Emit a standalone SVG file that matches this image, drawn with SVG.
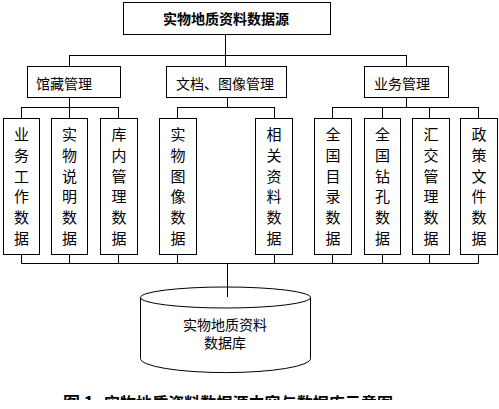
<svg xmlns="http://www.w3.org/2000/svg" width="499" height="409" viewBox="0 0 499 409">
<defs>
<style>
.b{fill:#fff;stroke:#000;stroke-width:1}
.t{font-family:"Noto Sans CJK SC","Noto Sans CJK JP",sans-serif;font-size:14px;fill:#000;text-anchor:middle}
.v{font-family:"Noto Sans CJK SC","Noto Sans CJK JP",sans-serif;font-size:15px;fill:#000;text-anchor:middle}
.c{fill:none;stroke:#000;stroke-width:1}
</style>
<clipPath id="cap"><rect x="0" y="393" width="499" height="7"/></clipPath>
</defs>
<rect width="499" height="409" fill="#fff"/>
<g id="connectors" class="c">
<path d="M225.5 34V55.5M69.5 55.5H406.5M69.5 55V66M225.5 55V66M406.5 55V66"/>
<path d="M69.5 97V107.5M21.5 107.5H118.5M21.5 107V118M69.5 107V118M118.5 107V118"/>
<path d="M227.5 97V107.5M177.5 107.5H274.5M177.5 107V118M274.5 107V118"/>
<path d="M406.5 97V107.5M332.5 107.5H478.5M332.5 107V118M382.5 107V118M429.5 107V118M478.5 107V118"/>
<path d="M21.5 254V263.5M69.5 254V263.5M118.5 254V263.5M177.5 254V263.5M274.5 254V263.5M332.5 254V263.5M382.5 254V263.5M429.5 254V263.5M478.5 254V263.5M21.5 263.5H478.5"/>
<path d="M227.5 263V297"/>
</g>
<g id="root"><rect class="b" x="123.5" y="2.5" width="207" height="32"/><text class="t" x="226" y="24" style="font-weight:bold">实物地质资料数据源</text></g>
<g id="n-guancang"><rect class="b" x="27.5" y="66.5" width="93" height="31"/><text class="t" x="64" y="89">馆藏管理</text></g>
<g id="n-wendang"><rect class="b" x="166.5" y="66.5" width="120" height="31"/><text class="t" x="225" y="89">文档、图像管理</text></g>
<g id="n-yewu"><rect class="b" x="364.5" y="66.5" width="84" height="31"/><text class="t" x="402" y="89">业务管理</text></g>
<g id="l1"><rect class="b" x="3.5" y="118.5" width="36" height="136"/><text class="v"><tspan x="21.5" y="140">业</tspan><tspan x="21.5" y="161">务</tspan><tspan x="21.5" y="182">工</tspan><tspan x="21.5" y="202">作</tspan><tspan x="21.5" y="223">数</tspan><tspan x="21.5" y="244">据</tspan></text></g>
<g id="l2"><rect class="b" x="51.5" y="118.5" width="36" height="136"/><text class="v"><tspan x="69.5" y="140">实</tspan><tspan x="69.5" y="161">物</tspan><tspan x="69.5" y="182">说</tspan><tspan x="69.5" y="202">明</tspan><tspan x="69.5" y="223">数</tspan><tspan x="69.5" y="244">据</tspan></text></g>
<g id="l3"><rect class="b" x="100.5" y="118.5" width="37" height="136"/><text class="v"><tspan x="119" y="140">库</tspan><tspan x="119" y="161">内</tspan><tspan x="119" y="182">管</tspan><tspan x="119" y="202">理</tspan><tspan x="119" y="223">数</tspan><tspan x="119" y="244">据</tspan></text></g>
<g id="l4"><rect class="b" x="159.5" y="118.5" width="37" height="136"/><text class="v"><tspan x="178" y="140">实</tspan><tspan x="178" y="161">物</tspan><tspan x="178" y="182">图</tspan><tspan x="178" y="202">像</tspan><tspan x="178" y="223">数</tspan><tspan x="178" y="244">据</tspan></text></g>
<g id="l5"><rect class="b" x="255.5" y="118.5" width="37" height="136"/><text class="v"><tspan x="274" y="140">相</tspan><tspan x="274" y="161">关</tspan><tspan x="274" y="182">资</tspan><tspan x="274" y="202">料</tspan><tspan x="274" y="223">数</tspan><tspan x="274" y="244">据</tspan></text></g>
<g id="l6"><rect class="b" x="314.5" y="118.5" width="37" height="136"/><text class="v"><tspan x="333" y="140">全</tspan><tspan x="333" y="161">国</tspan><tspan x="333" y="182">目</tspan><tspan x="333" y="202">录</tspan><tspan x="333" y="223">数</tspan><tspan x="333" y="244">据</tspan></text></g>
<g id="l7"><rect class="b" x="364.5" y="118.5" width="36" height="136"/><text class="v"><tspan x="382.5" y="140">全</tspan><tspan x="382.5" y="161">国</tspan><tspan x="382.5" y="182">钻</tspan><tspan x="382.5" y="202">孔</tspan><tspan x="382.5" y="223">数</tspan><tspan x="382.5" y="244">据</tspan></text></g>
<g id="l8"><rect class="b" x="412.5" y="118.5" width="37" height="136"/><text class="v"><tspan x="431" y="140">汇</tspan><tspan x="431" y="161">交</tspan><tspan x="431" y="182">管</tspan><tspan x="431" y="202">理</tspan><tspan x="431" y="223">数</tspan><tspan x="431" y="244">据</tspan></text></g>
<g id="l9"><rect class="b" x="460.5" y="118.5" width="37" height="136"/><text class="v"><tspan x="479" y="140">政</tspan><tspan x="479" y="161">策</tspan><tspan x="479" y="182">文</tspan><tspan x="479" y="202">件</tspan><tspan x="479" y="223">数</tspan><tspan x="479" y="244">据</tspan></text></g>
<g id="db">
<path class="c" d="M140.5 297.5V358.5A84.5 14 0 0 0 310.5 358.5V297.5"/>
<ellipse class="c" cx="225.5" cy="297.5" rx="85" ry="10.5"/>
<text class="t"><tspan x="225" y="330">实物地质资料</tspan><tspan x="225" y="348">数据库</tspan></text>
</g>
<g id="caption" clip-path="url(#cap)">
<text x="63" y="409" font-family="'Noto Sans CJK SC',sans-serif" font-size="17" font-weight="bold" fill="#000">图 1</text>
<text x="104" y="409" font-family="'Noto Sans CJK SC',sans-serif" font-size="16" font-weight="bold" fill="#000" textLength="289">实物地质资料数据源内容与数据库示意图</text>
</g>
</svg>
